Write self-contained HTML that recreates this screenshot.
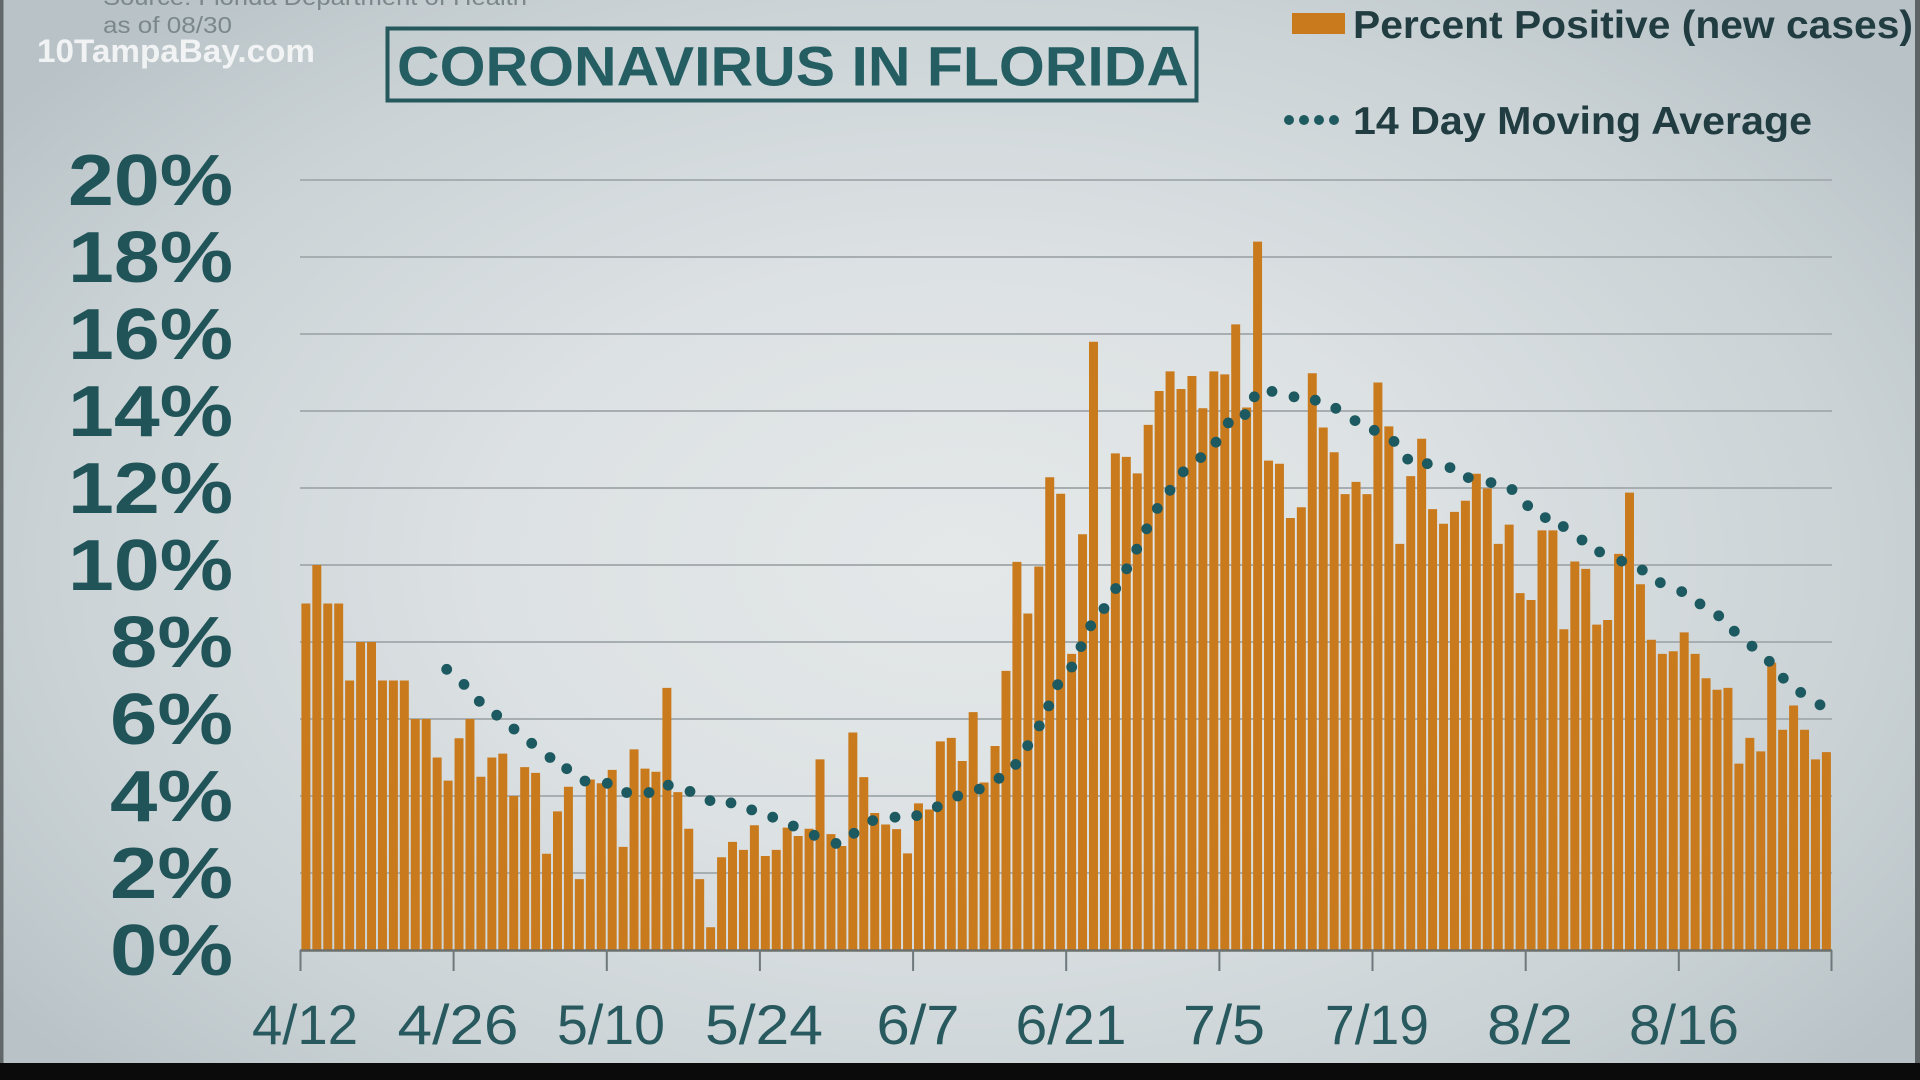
<!DOCTYPE html>
<html>
<head>
<meta charset="utf-8">
<style>
html,body{margin:0;padding:0;}
body{width:1920px;height:1080px;overflow:hidden;position:relative;
background:radial-gradient(ellipse 62% 70% at 50% 52%,#e4e8e9 0%,#dce1e3 40%,#cbd3d6 75%,#b9c3c7 100%);}
svg{position:absolute;left:0;top:0;}
text{font-family:"Liberation Sans",sans-serif;}
</style>
</head>
<body>
<svg width="1920" height="1080" viewBox="0 0 1920 1080" xmlns="http://www.w3.org/2000/svg">
<rect x="0" y="0" width="3.5" height="1063" fill="#62686a"/>
<rect x="1915" y="0" width="5" height="1063" fill="#5e6466"/>
<rect x="0" y="1063" width="1920" height="17" fill="#0b0b0b"/>

<text x="103" y="5" font-size="23" fill="#7b878b" textLength="424" lengthAdjust="spacingAndGlyphs">Source: Florida Department of Health</text>
<text x="103" y="33" font-size="23" fill="#7b878b" textLength="129" lengthAdjust="spacingAndGlyphs">as of 08/30</text>
<text x="37" y="62" font-size="32" font-weight="bold" fill="#ffffff" fill-opacity="0.78" textLength="278" lengthAdjust="spacingAndGlyphs">10TampaBay.com</text>

<rect x="387.5" y="28.5" width="809" height="72" fill="none" stroke="#25595d" stroke-width="4"/>
<text x="397" y="85.5" font-size="56" font-weight="bold" fill="#245e62" textLength="792" lengthAdjust="spacingAndGlyphs">CORONAVIRUS  IN FLORIDA</text>

<rect x="1292" y="13" width="53" height="21" fill="#c97a1c"/>
<text x="1353" y="38" font-size="39" font-weight="bold" fill="#223d42" textLength="560" lengthAdjust="spacingAndGlyphs">Percent Positive (new cases)</text>
<g fill="#1f5a60"><circle cx="1289" cy="120" r="5"/><circle cx="1304" cy="120" r="5"/><circle cx="1319" cy="120" r="5"/><circle cx="1334" cy="120" r="5"/></g>
<text x="1353" y="134" font-size="39" font-weight="bold" fill="#223d42" textLength="459" lengthAdjust="spacingAndGlyphs">14 Day Moving Average</text>

<path d="M300 180H1832M300 257H1832M300 334H1832M300 411H1832M300 488H1832M300 565H1832M300 642H1832M300 719H1832M300 796H1832M300 873H1832" stroke="#a7aeb1" stroke-width="2" fill="none"/>

<g font-size="72" font-weight="bold" fill="#215459" text-anchor="end">
<text x="233" y="205" textLength="165" lengthAdjust="spacingAndGlyphs">20%</text>
<text x="233" y="282" textLength="165" lengthAdjust="spacingAndGlyphs">18%</text>
<text x="233" y="359" textLength="165" lengthAdjust="spacingAndGlyphs">16%</text>
<text x="233" y="436" textLength="165" lengthAdjust="spacingAndGlyphs">14%</text>
<text x="233" y="513" textLength="165" lengthAdjust="spacingAndGlyphs">12%</text>
<text x="233" y="590" textLength="165" lengthAdjust="spacingAndGlyphs">10%</text>
<text x="233" y="667" textLength="123" lengthAdjust="spacingAndGlyphs">8%</text>
<text x="233" y="744" textLength="123" lengthAdjust="spacingAndGlyphs">6%</text>
<text x="233" y="821" textLength="123" lengthAdjust="spacingAndGlyphs">4%</text>
<text x="233" y="898" textLength="123" lengthAdjust="spacingAndGlyphs">2%</text>
<text x="233" y="975" textLength="123" lengthAdjust="spacingAndGlyphs">0%</text>
</g>

<g transform="translate(301.4 950) scale(10.939 -38.5)" fill="#c97a1c">
<path d="M0 0h.82v9H0zM1 0h.82v10H1zM2 0h.82v9H2zM3 0h.82v9H3zM4 0h.82v7H4zM5 0h.82v8H5zM6 0h.82v8H6zM7 0h.82v7H7zM8 0h.82v7H8zM9 0h.82v7H9zM10 0h.82v6H10zM11 0h.82v6H11zM12 0h.82v5H12zM13 0h.82v4.4H13zM14 0h.82v5.5H14zM15 0h.82v6H15zM16 0h.82v4.5H16zM17 0h.82v5H17zM18 0h.82v5.1H18zM19 0h.82v4H19zM20 0h.82v4.75H20zM21 0h.82v4.6H21zM22 0h.82v2.5H22zM23 0h.82v3.6H23zM24 0h.82v4.24H24zM25 0h.82v1.84H25zM26 0h.82v4.43H26zM27 0h.82v4.33H27zM28 0h.82v4.68H28zM29 0h.82v2.68H29zM30 0h.82v5.21H30zM31 0h.82v4.71H31zM32 0h.82v4.63H32zM33 0h.82v6.81H33zM34 0h.82v4.1H34zM35 0h.82v3.15H35zM36 0h.82v1.84H36zM37 0h.82v.59H37zM38 0h.82v2.41H38zM39 0h.82v2.81H39zM40 0h.82v2.6H40zM41 0h.82v3.24H41zM42 0h.82v2.44H42zM43 0h.82v2.6H43zM44 0h.82v3.18H44zM45 0h.82v2.96H45zM46 0h.82v3.15H46zM47 0h.82v4.95H47zM48 0h.82v3.01H48zM49 0h.82v2.7H49z"/>
<path d="M50 0h.82v5.65H50zM51 0h.82v4.49H51zM52 0h.82v3.56H52zM53 0h.82v3.26H53zM54 0h.82v3.14H54zM55 0h.82v2.51H55zM56 0h.82v3.81H56zM57 0h.82v3.65H57zM58 0h.82v5.42H58zM59 0h.82v5.51H59zM60 0h.82v4.91H60zM61 0h.82v6.18H61zM62 0h.82v4.35H62zM63 0h.82v5.3H63zM64 0h.82v7.25H64zM65 0h.82v10.08H65zM66 0h.82v8.74H66zM67 0h.82v9.96H67zM68 0h.82v12.28H68zM69 0h.82v11.85H69zM70 0h.82v7.69H70zM71 0h.82v10.8H71zM72 0h.82v15.8H72zM73 0h.82v8.9H73zM74 0h.82v12.9H74zM75 0h.82v12.81H75zM76 0h.82v12.38H76zM77 0h.82v13.64H77zM78 0h.82v14.52H78zM79 0h.82v15.03H79zM80 0h.82v14.57H80zM81 0h.82v14.91H81zM82 0h.82v14.07H82zM83 0h.82v15.03H83zM84 0h.82v14.95H84zM85 0h.82v16.25H85zM86 0h.82v14.09H86zM87 0h.82v18.4H87zM88 0h.82v12.71H88zM89 0h.82v12.63H89zM90 0h.82v11.22H90zM91 0h.82v11.5H91zM92 0h.82v14.98H92zM93 0h.82v13.57H93zM94 0h.82v12.93H94zM95 0h.82v11.84H95zM96 0h.82v12.16H96zM97 0h.82v11.84H97zM98 0h.82v14.74H98zM99 0h.82v13.6H99z"/>
<path d="M100 0h.82v10.55H100zM101 0h.82v12.31H101zM102 0h.82v13.28H102zM103 0h.82v11.45H103zM104 0h.82v11.07H104zM105 0h.82v11.38H105zM106 0h.82v11.67H106zM107 0h.82v12.37H107zM108 0h.82v11.99H108zM109 0h.82v10.55H109zM110 0h.82v11.05H110zM111 0h.82v9.27H111zM112 0h.82v9.09H112zM113 0h.82v10.9H113zM114 0h.82v10.9H114zM115 0h.82v8.33H115zM116 0h.82v10.09H116zM117 0h.82v9.9H117zM118 0h.82v8.45H118zM119 0h.82v8.57H119zM120 0h.82v10.29H120zM121 0h.82v11.88H121zM122 0h.82v9.5H122zM123 0h.82v8.06H123zM124 0h.82v7.69H124zM125 0h.82v7.76H125zM126 0h.82v8.25H126zM127 0h.82v7.69H127zM128 0h.82v7.06H128zM129 0h.82v6.76H129zM130 0h.82v6.81H130zM131 0h.82v4.84H131zM132 0h.82v5.51H132zM133 0h.82v5.16H133zM134 0h.82v7.46H134zM135 0h.82v5.72H135zM136 0h.82v6.35H136zM137 0h.82v5.72H137zM138 0h.82v4.95H138zM139 0h.82v5.14H139z"/>
</g>

<line x1="300" y1="950.5" x2="1832" y2="950.5" stroke="#6c706c" stroke-width="2.5"/>
<path d="M300.5 950V971M453.6 950V971M606.8 950V971M759.9 950V971M913.1 950V971M1066.2 950V971M1219.4 950V971M1372.5 950V971M1525.7 950V971M1678.8 950V971M1831.5 950V971" stroke="#6f787c" stroke-width="2" fill="none"/>

<g font-size="56" fill="#28595e" text-anchor="middle">
<text x="305" y="1044" textLength="106" lengthAdjust="spacingAndGlyphs">4/12</text>
<text x="458" y="1044" textLength="121" lengthAdjust="spacingAndGlyphs">4/26</text>
<text x="611" y="1044" textLength="108" lengthAdjust="spacingAndGlyphs">5/10</text>
<text x="764" y="1044" textLength="118" lengthAdjust="spacingAndGlyphs">5/24</text>
<text x="918" y="1044" textLength="83" lengthAdjust="spacingAndGlyphs">6/7</text>
<text x="1071" y="1044" textLength="111" lengthAdjust="spacingAndGlyphs">6/21</text>
<text x="1224" y="1044" textLength="82" lengthAdjust="spacingAndGlyphs">7/5</text>
<text x="1377" y="1044" textLength="104" lengthAdjust="spacingAndGlyphs">7/19</text>
<text x="1530" y="1044" textLength="86" lengthAdjust="spacingAndGlyphs">8/2</text>
<text x="1684" y="1044" textLength="110" lengthAdjust="spacingAndGlyphs">8/16</text>
</g>

<path fill="none" stroke="#1d5960" stroke-width="10.8" stroke-linecap="round" d="M446.7 669.3h0M464 684.4h0M479.3 701.3h0M496.7 715.2h0M514 729h0M531.7 743.3h0M550 757.5h0M566.7 768.7h0M585 781h0M607.3 783.3h0M626.7 792.5h0M649 792.5h0M668.3 785.2h0M690 791.4h0M710 800.6h0M731 802.9h0M751.7 809.9h0M772.7 817.2h0M793.3 826h0M814.2 835.3h0M836 843.4h0M854 833.3h0M872.7 820.6h0M895 817.2h0M916.7 815.6h0M937.3 806.8h0M957.7 796h0M979.3 789.1h0M999 778.3h0M1015.7 764.4h0M1027.7 745.6h0M1039.3 725.9h0M1048.7 705.9h0M1057.7 684.7h0M1071.7 667h0M1081 646.6h0M1090.7 625.8h0M1104 608.5h0M1115.7 588.5h0M1126.7 568.8h0M1136.7 549.2h0M1146.7 528.8h0M1157.3 508.4h0M1170 490.3h0M1183.3 471.8h0M1200.7 457.6h0M1216 442.2h0M1228.3 422.9h0M1245 414.5h0M1254.3 396.8h0M1272 391.4h0M1294 396.8h0M1315.3 400.2h0M1335.8 408.3h0M1355 420.6h0M1374.3 430.3h0M1394 441.4h0M1407.7 459.1h0M1427.3 463.7h0M1450 467.6h0M1468.3 477.6h0M1491 482.6h0M1512 489.5h0M1527.7 505.7h0M1545.3 517.6h0M1563.3 526.5h0M1582 540h0M1599.6 551.9h0M1621.7 561.1h0M1642.3 570h0M1660.3 582.7h0M1681.7 591.6h0M1700 603.9h0M1718.7 615.8h0M1734.3 631.2h0M1752 646.2h0M1769.3 661.3h0M1783.3 678.2h0M1800.7 692.4h0M1820 704.8h0"/>
</svg>
</body>
</html>
